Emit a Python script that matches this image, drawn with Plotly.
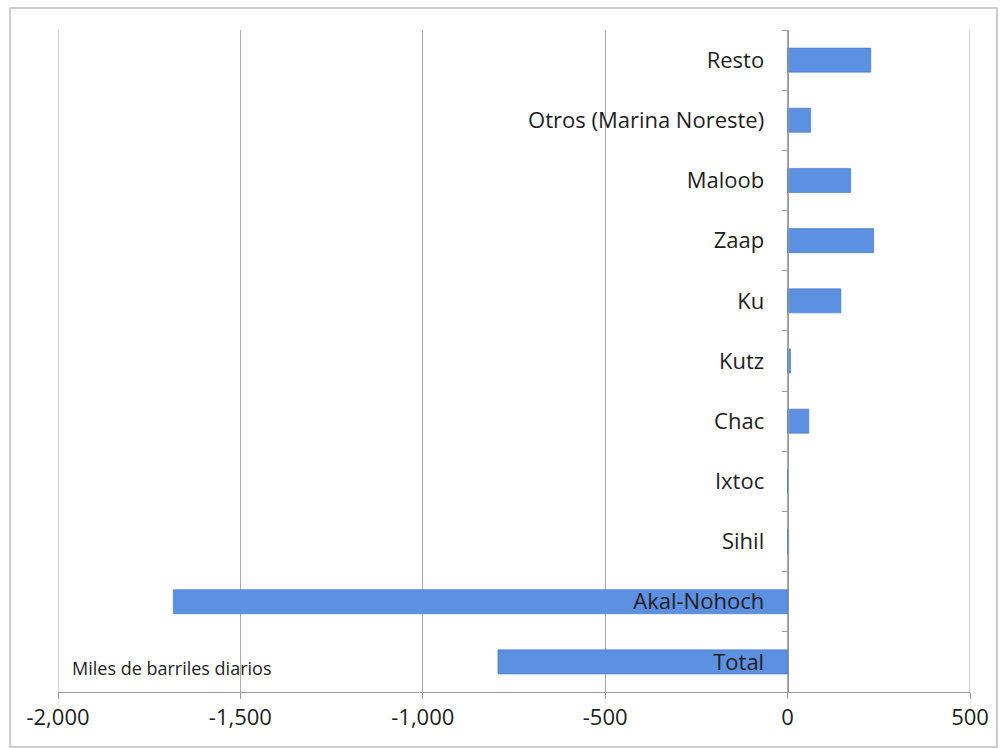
import plotly.graph_objects as go

categories = ["Resto", "Otros (Marina Noreste)", "Maloob", "Zaap", "Ku", "Kutz",
              "Chac", "Ixtoc", "Sihil", "Akal-Nohoch", "Total"]
values = [228, 63, 173, 236, 146, 8, 58, 2, 3, -1684, -794]
x_ticks = [-2000, -1500, -1000, -500, 0, 500]
x_ticklabels = ["-2,000", "-1,500", "-1,000", "-500", "0", "500"]
note = "Miles de barriles diarios"

W, H = 1006, 748
L, R, T, B = 58, 36, 30, 56
pw, ph = W - L - R, H - T - B
xmin, xmax = -2000, 500

fig = go.Figure(go.Bar(
    x=values, y=categories, orientation="h",
    marker=dict(color="#5c90e0", line=dict(color="#3f73c6", width=0.6)),
    width=0.4,
))

def px_to_paper_x(px):
    return (px - L) / pw

def px_to_paper_y(py):
    return (H - B - py) / ph

grid_col = "#a8a8a8"
shapes = [dict(
    type="rect", xref="paper", yref="paper", layer="below",
    x0=px_to_paper_x(10), x1=px_to_paper_x(997),
    y0=px_to_paper_y(747), y1=px_to_paper_y(8),
    line=dict(color="#bdbdbd", width=1.5),
)]
# edge gridlines (plotly omits gridlines at the range ends)
for xv in (xmin, xmax):
    shapes.append(dict(type="line", xref="x", yref="paper", layer="below",
                       x0=xv, x1=xv, y0=0, y1=1,
                       line=dict(color=grid_col, width=1)))

fig.update_layout(
    width=W, height=H,
    margin=dict(l=L, r=R, t=T, b=B),
    paper_bgcolor="white", plot_bgcolor="white",
    showlegend=False,
    font=dict(family="Open Sans", color="#1e1e1e", size=22),
    xaxis=dict(
        range=[xmin, xmax], tickvals=x_ticks, ticktext=x_ticklabels,
        showgrid=True, gridcolor=grid_col, gridwidth=1,
        zeroline=False, showline=True, linecolor="#9a9a9a", linewidth=1,
        ticks="outside", ticklen=6, tickcolor="#9a9a9a",
        tickfont=dict(size=22, color="#1e1e1e"),
        fixedrange=True,
    ),
    yaxis=dict(
        categoryorder="array", categoryarray=categories,
        autorange="reversed",
        anchor="free", position=(0 - xmin) / (xmax - xmin),
        showline=True, linecolor="#9a9a9a", linewidth=1,
        ticks="outside", ticklen=6, tickcolor="#9a9a9a",
        tickson="boundaries", ticklabelstandoff=19,
        showgrid=False, zeroline=False,
        tickfont=dict(size=22, color="#1e1e1e"),
        fixedrange=True,
    ),
    annotations=[dict(
        text=note, xref="paper", yref="paper",
        x=px_to_paper_x(70), y=px_to_paper_y(668),
        xanchor="left", yanchor="middle", showarrow=False,
        font=dict(size=18, color="#1e1e1e"),
    )],
    shapes=shapes,
)

fig.write_html("out.html")
